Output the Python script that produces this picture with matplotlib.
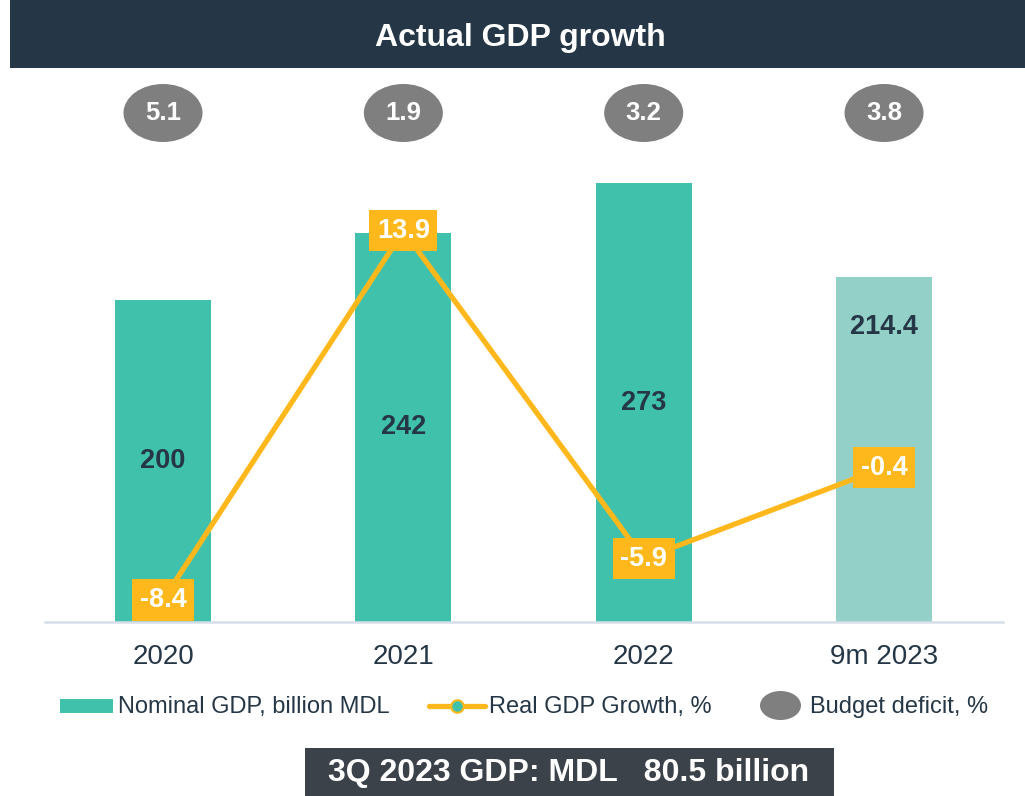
import matplotlib
matplotlib.use("Agg")
import matplotlib.pyplot as plt
import matplotlib.transforms as mtransforms
from matplotlib.patches import Ellipse, Rectangle
from matplotlib.lines import Line2D
import numpy as np

plt.rcParams['font.family'] = ['Liberation Sans', 'DejaVu Sans']

# ---- data ----
categories = ["2020", "2021", "2022", "9m 2023"]
nominal_gdp = [200, 242, 273, 214.4]
nominal_labels = ["200", "242", "273", "214.4"]
real_growth = [-8.4, 13.9, -5.9, -0.4]
budget_deficit = [5.1, 1.9, 3.2, 3.8]
title_text = "Actual GDP growth"
footer_text = "3Q 2023 GDP: MDL   80.5 billion"
legend_labels = ["Nominal GDP, billion MDL", "Real GDP Growth, %", "Budget deficit, %"]

# ---- styles ----
TEAL = "#40c1ac"
TEAL_LIGHT = "#93d0c7"
ORANGE = "#ffb81c"
GRAY = "#7f7f7f"
NAVY = "#253746"
FOOT = "#3b4249"
bar_colors = [TEAL, TEAL, TEAL, TEAL_LIGHT]
label_frac = [0.5, 0.5, 0.5, 0.855]

W, H = 1025, 796
fig = plt.figure(figsize=(W / 100, H / 100), dpi=100)

def fx(px):
    return px / W

def fy(py):
    return 1 - py / H

# overlay in pixel coordinates for decorations (title bar, legend, footer)
ov = fig.add_axes([0, 0, 1, 1], zorder=-1)
ov.set_xlim(0, W)
ov.set_ylim(H, 0)
ov.axis("off")

ov.add_patch(Rectangle((10, 0), W - 10, 68, facecolor=NAVY, edgecolor="none"))
ov.text(520, 38, title_text, color="white", fontsize=23, fontweight="bold",
        ha="center", va="center")

# main axes
ax_left, ax_right, ax_bottom_px, ax_top_px = 45, 1003, 622, 170
ax = fig.add_axes([fx(ax_left), fy(ax_bottom_px), (ax_right - ax_left) / W,
                   (ax_bottom_px - ax_top_px) / H])
ax.patch.set_alpha(0)
x = np.arange(len(categories))
px_per_unit = 1.608
ax.bar(x, nominal_gdp, width=0.40, color=bar_colors, zorder=2)
ax.set_xlim(-0.491, 3.495)
ax.set_ylim(0, (ax_bottom_px - ax_top_px) / px_per_unit)
for xi, v, lab, fr in zip(x, nominal_gdp, nominal_labels, label_frac):
    ax.text(xi, v * fr, lab, ha="center", va="center", fontsize=19.5, fontweight="bold",
            color=NAVY, zorder=3)

for s in ["top", "right", "left"]:
    ax.spines[s].set_visible(False)
ax.spines["bottom"].set_color("#d6dee8")
ax.spines["bottom"].set_linewidth(1.8)
ax.set_yticks([])
ax.set_xticks(x)
ax.set_xticklabels(categories, fontsize=20, color=NAVY)
ax.tick_params(axis="x", length=0, pad=16)

# secondary axis for growth line
ax2 = ax.twinx()
slope = 16.55
y_zero = 460.94
ax2.set_ylim(-(ax_bottom_px - y_zero) / slope, (y_zero - ax_top_px) / slope)
ax2.set_yticks([])
for s in ax2.spines.values():
    s.set_visible(False)
ax2.plot(x, real_growth, color=ORANGE, linewidth=3.8, marker="o", markersize=8,
         markerfacecolor=TEAL, markeredgecolor=ORANGE, zorder=3, solid_capstyle="round")
for xi, v in zip(x, real_growth):
    ax2.text(xi, v, f"{v:.1f}", ha="center", va="center", fontsize=19.5, fontweight="bold",
             color="white", zorder=5,
             bbox=dict(boxstyle="square,pad=0.28", facecolor=ORANGE, edgecolor="none"))

# budget deficit ellipses
trans = mtransforms.blended_transform_factory(ax.transData, fig.transFigure)
for xi, v in zip(x, budget_deficit):
    e = Ellipse((xi, fy(113)), width=79 / 240.3, height=58 / H, transform=trans,
                facecolor=GRAY, edgecolor="none", clip_on=False, zorder=2)
    ax.add_artist(e)
    ax.text(xi, fy(113), f"{v:.1f}", transform=trans, ha="center", va="center",
            fontsize=18.5, fontweight="bold", color="white", zorder=3)

# legend (drawn manually to match the reference spacing)
leg_base = 713
leg_mid = 705.5
ov.add_patch(Rectangle((60, 699), 53, 14, facecolor=TEAL, edgecolor="none"))
ov.text(118, leg_base, legend_labels[0], fontsize=17, color=NAVY, ha="left", va="baseline")
ov.add_line(Line2D([429, 485], [leg_mid, leg_mid], color=ORANGE, linewidth=3.8,
                   solid_capstyle="round"))
ov.add_line(Line2D([457], [leg_mid], linestyle="none", marker="o", markersize=9,
                   markerfacecolor=TEAL, markeredgecolor=ORANGE, markeredgewidth=1.5))
ov.text(489, leg_base, legend_labels[1], fontsize=17, color=NAVY, ha="left", va="baseline")
ov.add_patch(Ellipse((780.5, leg_mid), 41, 29, facecolor=GRAY, edgecolor="none"))
ov.text(810, leg_base, legend_labels[2], fontsize=17, color=NAVY, ha="left", va="baseline")

# footer box
ov.add_patch(Rectangle((305, 748), 834 - 305, H - 748, facecolor=FOOT, edgecolor="none"))
ov.text(569, 773, footer_text, color="white", fontsize=23, fontweight="bold",
        ha="center", va="center")

fig.savefig("out.png", dpi=100)
